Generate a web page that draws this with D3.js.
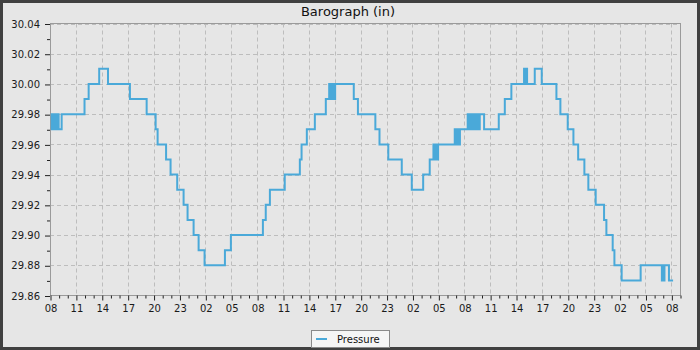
<!DOCTYPE html>
<html>
<head>
<meta charset="utf-8">
<script src="https://cdn.jsdelivr.net/npm/d3@7"></script>
<style>
  html, body { margin: 0; padding: 0; background: #e6e6e6; }
  svg { display: block; }
  text { font-family: "DejaVu Sans", sans-serif; }
</style>
</head>
<body>
<div id="chart"></div>
<script>
// ---- data (hours since 08:00 on day 1, pressure in inches) ----
const hours = [
  0.1, 0.2, 0.3, 0.4, 0.5, 0.6, 0.7, 0.78, 1.0, 1.35,
  4.0, 4.48, 5.7, 6.72, 9.26, 11.2, 12.24, 12.47, 13.45, 13.97,
  14.74, 15.48, 15.94, 16.64, 17.22, 17.91, 20.27, 20.96, 24.67, 25.0,
  25.48, 27.2, 28.95, 29.15, 29.76, 30.69, 31.96, 32.35, 32.5, 32.58,
  32.72, 32.8, 32.92, 33.04, 35.2, 35.68, 37.7, 38.18, 39.2, 40.76,
  41.92, 43.24, 44.0, 44.43, 44.52, 44.6, 44.7, 44.8, 44.88, 44.97,
  46.9, 47.0, 47.1, 47.2, 47.3, 47.4, 47.5, 48.4, 48.5, 48.6,
  48.7, 48.8, 48.9, 49.07, 49.3, 49.4, 49.5, 49.6, 49.7, 49.8,
  50.3, 52.0, 52.7, 53.46, 54.93, 55.03, 55.13, 55.28, 56.17, 56.98,
  58.68, 59.14, 59.99, 60.65, 61.2, 61.92, 62.38, 63.23, 64.2, 64.47,
  65.2, 65.4, 66.24, 68.44, 70.9, 71.0, 71.1, 71.2, 71.3, 71.72,
  72.2
];
const pressure = [
  29.97, 29.98, 29.97, 29.98, 29.97, 29.98, 29.97, 29.98, 29.97, 29.98,
  29.99, 30.00, 30.01, 30.00, 29.99, 29.98, 29.97, 29.96, 29.95, 29.94,
  29.93, 29.92, 29.91, 29.90, 29.89, 29.88, 29.89, 29.90, 29.91, 29.92,
  29.93, 29.94, 29.95, 29.96, 29.97, 29.98, 29.99, 30.00, 29.99, 30.00,
  29.99, 30.00, 29.99, 30.00, 29.99, 29.98, 29.97, 29.96, 29.95, 29.94,
  29.93, 29.94, 29.95, 29.96, 29.95, 29.96, 29.95, 29.96, 29.95, 29.96,
  29.97, 29.96, 29.97, 29.96, 29.97, 29.96, 29.97, 29.98, 29.97, 29.98,
  29.97, 29.98, 29.97, 29.98, 29.97, 29.98, 29.97, 29.98, 29.97, 29.98,
  29.97, 29.98, 29.99, 30.00, 30.01, 30.00, 30.01, 30.00, 30.01, 30.00,
  29.99, 29.98, 29.97, 29.96, 29.95, 29.94, 29.93, 29.92, 29.91, 29.90,
  29.89, 29.88, 29.87, 29.88, 29.87, 29.88, 29.87, 29.88, 29.88, 29.87,
  29.87
];
const xTickValues = d3.range(0, 73, 3);
const xTickLabels = [
  "08","11","14","17","20","23","02","05",
  "08","11","14","17","20","23","02","05",
  "08","11","14","17","20","23","02","05",
  "08"
];
const yTickValues = [29.86, 29.88, 29.90, 29.92, 29.94, 29.96, 29.98, 30.00, 30.02, 30.04];
const yMinorTicks = [29.87, 29.89, 29.91, 29.93, 29.95, 29.97, 29.99, 30.01, 30.03];
const xMinorTicks = d3.range(0, 74, 1).filter(d => d % 3 !== 0);
const title = "Barograph (in)";
const seriesName = "Pressure";

// ---- layout ----
const W = 700, H = 350;
const mLeft = 50, mRight = 680, mTop = 23.5, mBottom = 295.5;
const lineColor = "#4aa9d9";

const svg = d3.select("#chart").append("svg").attr("width", W).attr("height", H);

svg.append("rect").attr("x", 1.5).attr("y", 1.5).attr("width", W - 3).attr("height", H - 3)
  .attr("fill", "#e6e6e6").attr("stroke", "#404040").attr("stroke-width", 3);

const x = d3.scaleLinear().domain([0, 73]).range([mLeft, mRight]);
const y = d3.scaleLinear().domain([29.86, 30.04]).range([mBottom, mTop]);

const px = v => Math.round(v) + 0.5;

// grid
const grid = svg.append("g").attr("stroke", "#bdbdbd").attr("stroke-width", 1).attr("stroke-dasharray", "4,3");
grid.selectAll("line.v").data(xTickValues.slice(1)).join("line")
  .attr("class", "v")
  .attr("x1", d => px(x(d))).attr("x2", d => px(x(d)))
  .attr("y1", mTop).attr("y2", mBottom);
grid.selectAll("line.h").data(yTickValues.slice(1)).join("line")
  .attr("class", "h")
  .attr("y1", d => px(y(d))).attr("y2", d => px(y(d)))
  .attr("x1", mLeft).attr("x2", mRight);

// plot border
svg.append("rect").attr("x", mLeft + 0.5).attr("y", mTop)
  .attr("width", mRight - mLeft).attr("height", mBottom - mTop)
  .attr("fill", "none").attr("stroke", "#9a9a9a").attr("stroke-width", 1);

// line
const line = d3.line()
  .x((d, i) => x(hours[i]))
  .y(d => y(d))
  .curve(d3.curveStepAfter);
svg.append("path").datum(pressure)
  .attr("d", line)
  .attr("fill", "none").attr("stroke", lineColor).attr("stroke-width", 2);

// axes
const xAxis = svg.append("g").attr("transform", `translate(0.5,${mBottom})`)
  .call(d3.axisBottom(x).tickValues(xTickValues).tickFormat((d, i) => xTickLabels[i]).tickSize(5).tickPadding(4));
const xMinor = svg.append("g").attr("transform", `translate(0.5,${mBottom})`)
  .call(d3.axisBottom(x).tickValues(xMinorTicks).tickFormat("").tickSize(3));
const yAxis = svg.append("g").attr("transform", `translate(${mLeft},0.5)`)
  .call(d3.axisLeft(y).tickValues(yTickValues).tickFormat(d3.format(".2f")).tickSize(5).tickPadding(5));
const yMinor = svg.append("g").attr("transform", `translate(${mLeft},0.5)`)
  .call(d3.axisLeft(y).tickValues(yMinorTicks).tickFormat("").tickSize(3));

[xAxis, xMinor, yAxis, yMinor].forEach(g => {
  g.select(".domain").remove();
  g.selectAll(".tick line").attr("stroke", "#222");
  g.selectAll("text").attr("font-family", "DejaVu Sans").attr("font-size", 10).attr("fill", "#1a1a1a");
});

// title
svg.append("text").attr("x", 348).attr("y", 15.5).attr("text-anchor", "middle")
  .attr("font-size", 13).attr("fill", "#111").text(title);

// legend
const lg = svg.append("g");
lg.append("rect").attr("x", 311.5).attr("y", 330.5).attr("width", 78).attr("height", 17)
  .attr("fill", "#f5f5f5").attr("stroke", "#8a8a8a");
lg.append("line").attr("x1", 316).attr("x2", 327).attr("y1", 339).attr("y2", 339)
  .attr("stroke", lineColor).attr("stroke-width", 2);
lg.append("text").attr("x", 337).attr("y", 342.5).attr("font-size", 10).attr("fill", "#111").text(seriesName);
</script>
</body>
</html>
